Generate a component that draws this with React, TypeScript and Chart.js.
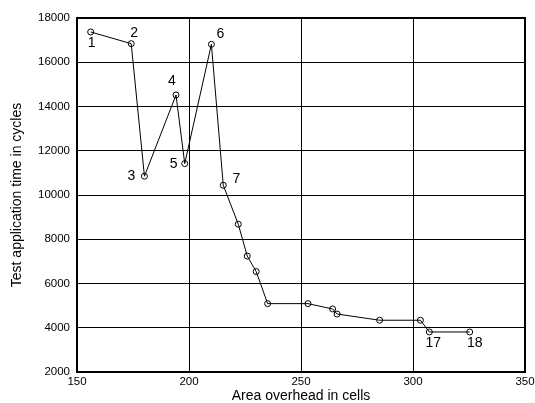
import React, { useEffect, useRef } from "react";
import { Chart, registerables } from "chart.js";

Chart.register(...registerables);

const xValues = [156.1, 174.2, 180.1, 194.2, 198.1, 210.0, 215.3, 222.0, 226.0, 230.0, 235.1, 253.1, 264.1, 266.1, 285.1, 303.3, 307.3, 325.3];
const yValues = [17370, 16840, 10850, 14520, 11420, 16810, 10440, 8680, 7240, 6540, 5090, 5090, 4850, 4620, 4340, 4340, 3810, 3810];
const pointLabels = ["1", "2", "3", "4", "5", "6", "7", "", "", "", "", "", "", "", "", "", "17", "18"];
const xTitle = "Area overhead in cells";
const yTitle = "Test application time in cycles";

// label placement relative to each point (pixels), styling only
const labelOffsets: [number, number][] = [
  [1, 11], [3, -11], [-13, 0], [-4, -14], [-11, 1], [9, -10], [13, -6],
  [0, 0], [0, 0], [0, 0], [0, 0], [0, 0], [0, 0], [0, 0], [0, 0], [0, 0],
  [4, 11], [5, 11],
];

const FONT = "'Liberation Sans', Arial, sans-serif";

export default function App() {
  const ref = useRef<HTMLCanvasElement | null>(null);
  useEffect(() => {
    if (!ref.current) return;
    const labelPlugin = {
      id: "pointNumbers",
      afterDatasetsDraw(chart: any) {
        const ctx = chart.ctx;
        const meta = chart.getDatasetMeta(0);
        ctx.save();
        ctx.fillStyle = "#000";
        ctx.font = `14px ${FONT}`;
        ctx.textAlign = "center";
        ctx.textBaseline = "middle";
        meta.data.forEach((pt: any, i: number) => {
          const t = pointLabels[i];
          if (!t) return;
          const [dx, dy] = labelOffsets[i];
          ctx.fillText(t, pt.x + dx, pt.y + dy);
        });
        ctx.restore();
      },
    };
    const framePlugin = {
      id: "frame",
      afterDraw(chart: any) {
        const { ctx, chartArea } = chart;
        ctx.save();
        ctx.strokeStyle = "#000";
        ctx.lineWidth = 2;
        ctx.strokeRect(chartArea.left, chartArea.top, chartArea.right - chartArea.left, chartArea.bottom - chartArea.top);
        ctx.restore();
      },
    };
    const chart = new Chart(ref.current, {
      type: "line",
      data: {
        datasets: [
          {
            data: xValues.map((x, i) => ({ x, y: yValues[i] })),
            borderColor: "#000",
            borderWidth: 1,
            backgroundColor: "#fff",
            pointRadius: 3,
            pointBorderWidth: 1,
            pointBorderColor: "#000",
            pointBackgroundColor: "rgba(255,255,255,0)",
            tension: 0,
            fill: false,
          },
        ],
      },
      options: {
        responsive: false,
        animation: false,
        layout: { padding: { top: 18, right: 10, left: 0, bottom: 0 } },
        plugins: { legend: { display: false }, tooltip: { enabled: false } },
        scales: {
          x: {
            type: "linear",
            min: 150,
            max: 350,
            ticks: { stepSize: 50, color: "#000", font: { family: FONT, size: 11.5 }, padding: 3, maxRotation: 0, callback: (v: any) => String(v) },
            grid: { color: "#000", lineWidth: 1, drawTicks: false },
            border: { color: "#000", width: 1 },
            title: { display: true, text: xTitle, color: "#000", font: { family: FONT, size: 14 }, padding: { top: 0, bottom: -2 } },
            afterFit(scale: any) { scale.height = 31; scale.paddingRight = 0; scale.paddingLeft = 0; },
          },
          y: {
            type: "linear",
            min: 2000,
            max: 18000,
            ticks: { stepSize: 2000, color: "#000", font: { family: FONT, size: 11.5 }, padding: 7, callback: (v: any) => String(v) },
            grid: { color: "#000", lineWidth: 1, drawTicks: false },
            border: { color: "#000", width: 1 },
            title: { display: true, text: yTitle, color: "#000", font: { family: FONT, size: 14 }, padding: { top: 9, bottom: 0 } },
            afterFit(scale: any) { scale.width = 77; },
          },
        },
      },
      plugins: [labelPlugin, framePlugin],
    } as any);
    return () => chart.destroy();
  }, []);
  return (
    <div style={{ position: "fixed", left: 0, top: 0, width: 535, height: 403, background: "#fff" }}>
      <canvas ref={ref} width={535} height={403} />
    </div>
  );
}
